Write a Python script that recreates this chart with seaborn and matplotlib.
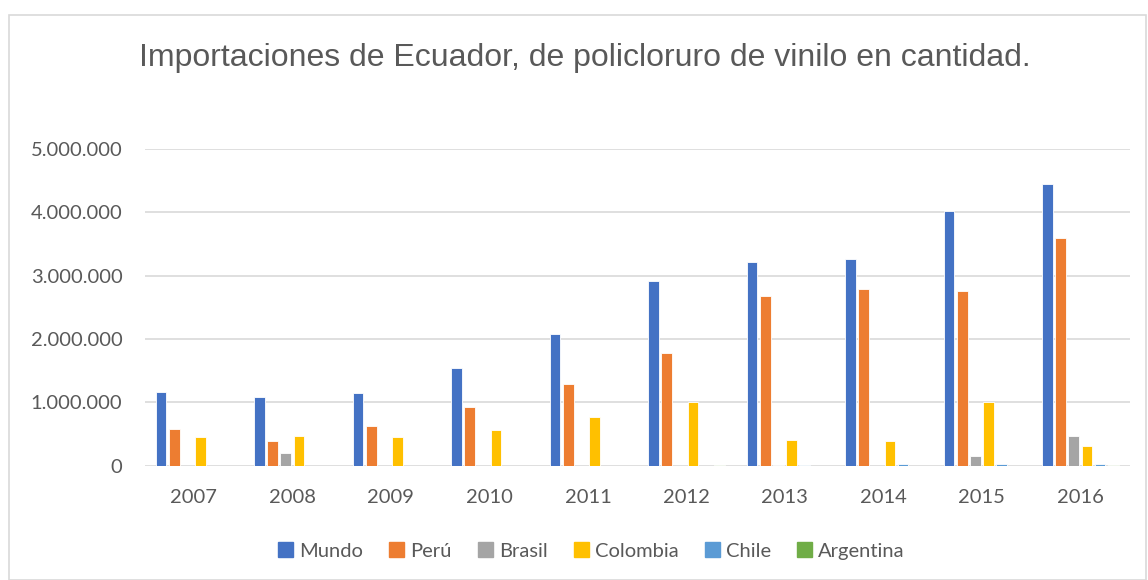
import pandas as pd
import matplotlib.pyplot as plt
import seaborn as sns
from matplotlib.ticker import FuncFormatter
from matplotlib.patches import Rectangle

# datos (toneladas aprox.)
anios = ["2007", "2008", "2009", "2010", "2011", "2012", "2013", "2014", "2015", "2016"]
paises = ["Mundo", "Perú", "Brasil", "Colombia", "Chile", "Argentina"]
mundo = [1160000, 1083000, 1141000, 1550000, 2080000, 2920000, 3220000, 3260000, 4020000, 4450000]
peru = [580000, 394000, 620000, 930000, 1290000, 1780000, 2680000, 2790000, 2760000, 3600000]
brasil = [0, 194000, 0, 0, 0, 0, 6000, 0, 158000, 462000]
colombia = [447000, 462000, 452000, 563000, 762000, 1005000, 410000, 390000, 1005000, 315000]
chile = [0, 0, 0, 0, 0, 0, 5000, 30000, 30000, 30000]
argentina = [0, 0, 0, 0, 0, 15000, 0, 0, 0, 5000]

colores = ["#4472C4", "#ED7D31", "#A5A5A5", "#FFC000", "#5B9BD5", "#70AD47"]

df = pd.DataFrame({"Año": anios, "Mundo": mundo, "Perú": peru, "Brasil": brasil,
                   "Colombia": colombia, "Chile": chile, "Argentina": argentina})
df = df.melt(id_vars="Año", var_name="País", value_name="Cantidad")

sns.set_style("white")
plt.rcParams["font.family"] = ["Lato", "DejaVu Sans"]

fig = plt.figure(figsize=(11.48, 5.8), dpi=100)
ax = fig.add_axes([0.126, 0.197, 0.858, 0.546])

sns.barplot(data=df, x="Año", y="Cantidad", hue="País", hue_order=paises,
            palette=colores, saturation=1, width=0.8, gap=0.18, edgecolor="white",
            linewidth=0.6, ax=ax, legend=False)

ax.set_ylim(0, 5000000)
ax.set_yticks(range(0, 5000001, 1000000))
ax.yaxis.set_major_formatter(FuncFormatter(lambda v, p: f"{int(v):,}".replace(",", ".")))
ax.grid(axis="y", color="#D9D9D9", linewidth=1.2)
ax.set_axisbelow(True)
for s in ax.spines.values():
    s.set_visible(False)
ax.tick_params(axis="both", length=0, labelsize=14.5, labelcolor="#595959")
ax.tick_params(axis="x", pad=17)
ax.tick_params(axis="y", pad=16)
ax.set_xlabel("")
ax.set_ylabel("")

fig.text(0.509, 0.9, "Importaciones de Ecuador, de policloruro de vinilo en cantidad.",
         ha="center", va="center", fontsize=23, color="#595959", family="Liberation Sans")

manejadores = [Rectangle((0, 0), 1, 1, color=c) for c in colores]
fig.legend(manejadores, paises, loc="center", bbox_to_anchor=(0.515, 0.05), ncol=6,
           frameon=False, fontsize=14.5, labelcolor="#595959", handlelength=0.75,
           handleheight=0.75, handletextpad=0.3, columnspacing=1.3)

# borde del area del grafico
fig.patches.append(Rectangle((0.008, 0.0), 0.99, 0.975, transform=fig.transFigure,
                             fill=False, edgecolor="#D9D9D9", linewidth=1.2))

fig.savefig("out.png", dpi=100)
